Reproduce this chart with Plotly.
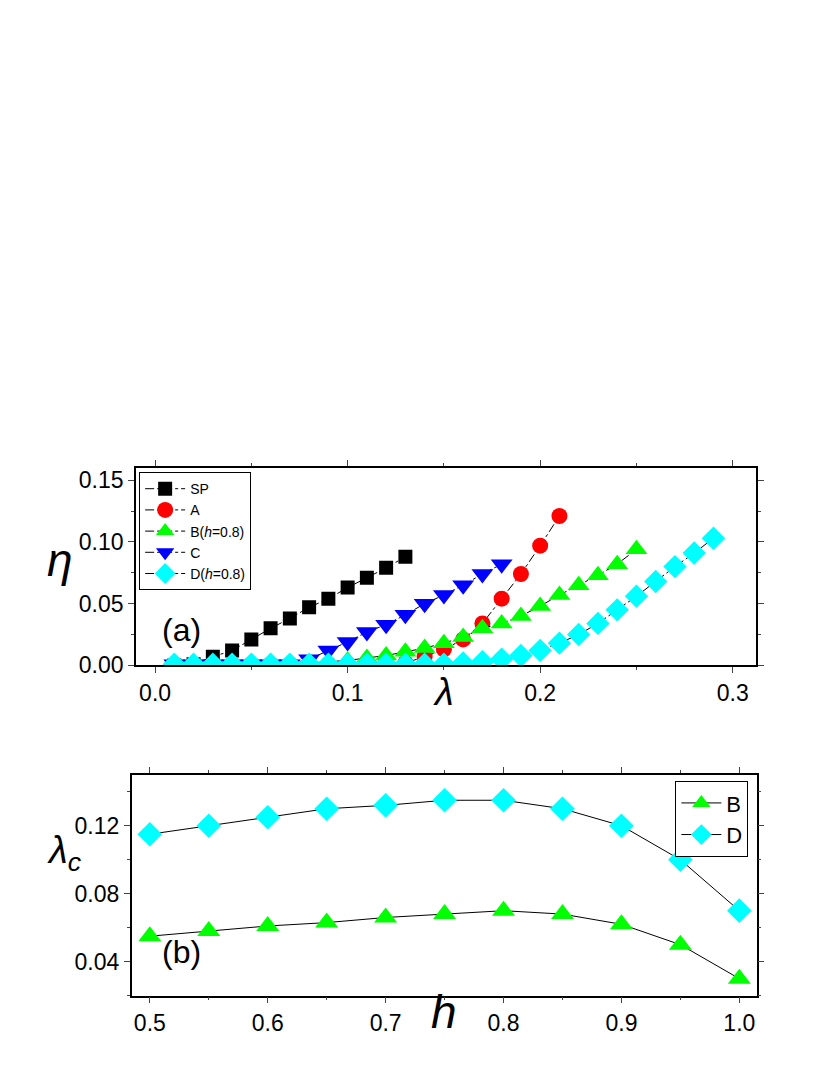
import plotly.graph_objects as go

lam = [round(0.01 * i, 2) for i in range(1, 30)]
sp = [0.0, 0.001, 0.007, 0.012, 0.021, 0.030, 0.038, 0.047, 0.054, 0.063, 0.071, 0.079, 0.088]
a = [0.001, 0.001, 0.001, 0.001, 0.001, 0.001, 0.001, 0.001, 0.001, 0.001, 0.001, 0.002, 0.002,
     0.007, 0.013, 0.021, 0.034, 0.054, 0.074, 0.097, 0.121]
b = [0.001, 0.001, 0.001, 0.001, 0.001, 0.001, 0.001, 0.002, 0.003, 0.004, 0.006, 0.008, 0.011,
     0.014, 0.018, 0.023, 0.030, 0.034, 0.040, 0.048, 0.057, 0.065, 0.073, 0.082, 0.094]
c = [0.001, 0.001, 0.001, 0.001, 0.001, 0.001, 0.001, 0.005, 0.012, 0.019, 0.027, 0.033, 0.041,
     0.050, 0.057, 0.065, 0.074, 0.082]
d = [0.001] * 15 + [0.002, 0.003, 0.005, 0.008, 0.012, 0.018, 0.025, 0.034, 0.045, 0.056,
                    0.068, 0.080, 0.091, 0.103]

h = [0.5, 0.55, 0.6, 0.65, 0.7, 0.75, 0.8, 0.85, 0.9, 0.95, 1.0]
lc_b = [0.055, 0.058, 0.061, 0.063, 0.066, 0.068, 0.070, 0.068, 0.062, 0.050, 0.030]
lc_d = [0.115, 0.120, 0.125, 0.130, 0.132, 0.135, 0.135, 0.130, 0.120, 0.100, 0.070]

fig = go.Figure()
line_top = dict(color="black", width=1, dash="dashdot")
line_bot = dict(color="black", width=1)

top = [("SP", sp, "square", "black", 14),
       ("A", a, "circle", "red", 16),
       ("B(<i>h</i>=0.8)", b, "triangle-up", "#00ff00", 19),
       ("C", c, "triangle-down", "blue", 19),
       ("D(<i>h</i>=0.8)", d, "diamond", "cyan", 18)]
for name, ys, sym, col, sz in top:
    fig.add_trace(go.Scatter(x=lam[:len(ys)], y=ys, name=name, mode="lines+markers",
                             line=line_top, marker=dict(symbol=sym, color=col, size=sz),
                             xaxis="x", yaxis="y", legend="legend"))

for name, ys, sym, sz in [("B", lc_b, "triangle-up", 20), ("D", lc_d, "diamond", 19)]:
    fig.add_trace(go.Scatter(x=h, y=ys, name=name, mode="lines+markers", line=line_bot,
                             marker=dict(symbol=sym, color="#00ff00" if name == "B" else "cyan", size=sz),
                             xaxis="x2", yaxis="y2", legend="legend2"))

ax = dict(showline=True, linecolor="black", linewidth=1.5, mirror="ticks", ticks="outside",
          ticklen=6, tickwidth=1.2, showgrid=False, zeroline=False,
          tickfont=dict(family="Arial", size=23, color="black"))

fig.update_layout(
    width=830, height=1075, paper_bgcolor="white", plot_bgcolor="white",
    margin=dict(l=0, r=0, t=0, b=0),
    xaxis=dict(ax, domain=[0.154, 0.901], range=[-0.01, 0.312], tickvals=[0, 0.1, 0.2, 0.3],
               ticktext=["0.0", "0.1", "0.2", "0.3"], minor=dict(dtick=0.05, ticks="outside", ticklen=3),
               anchor="y"),
    yaxis=dict(ax, domain=[0.381, 0.567], range=[0, 0.16], tickvals=[0, 0.05, 0.10, 0.15],
               ticktext=["0.00", "0.05", "0.10", "0.15"], minor=dict(dtick=0.025, ticks="outside", ticklen=3),
               anchor="x"),
    xaxis2=dict(ax, domain=[0.149, 0.902], range=[0.4846, 1.0147], tickvals=h[::2],
                ticktext=["0.5", "0.6", "0.7", "0.8", "0.9", "1.0"],
                minor=dict(dtick=0.05, ticks="outside", ticklen=3), anchor="y2"),
    yaxis2=dict(ax, domain=[0.070, 0.278], range=[0.02, 0.15], tickvals=[0.04, 0.08, 0.12],
                ticktext=["0.04", "0.08", "0.12"], minor=dict(dtick=0.02, ticks="outside", ticklen=3),
                anchor="x2"),
    legend=dict(x=0.158, y=0.563, xanchor="left", yanchor="top", bgcolor="white",
                bordercolor="black", borderwidth=1, font=dict(family="Arial", size=14, color="black"),
                tracegroupgap=0, itemwidth=40),
    legend2=dict(x=0.892, y=0.272, xanchor="right", yanchor="top", bgcolor="white",
                 bordercolor="black", borderwidth=1, font=dict(family="Arial", size=22, color="black"),
                 itemwidth=40),
    showlegend=True,
)

ann = [("<i>η</i>", 0.045, 0.48, 46),
       ("<i>λ</i>", 0.525, 0.356, 38),
       ("<i>h</i>", 0.525, 0.028, 46),
       ("<i>λ<sub>c</sub></i>", 0.045, 0.18, 38),
       ("(a)", 0.183, 0.414, 32),
       ("(b)", 0.183, 0.092, 32)]
for txt, x, y, sz in ann:
    fig.add_annotation(text=txt, x=x, y=y, xref="paper", yref="paper", showarrow=False,
                       font=dict(family="Arial", size=sz, color="black"))

fig.write_html("out.html")
